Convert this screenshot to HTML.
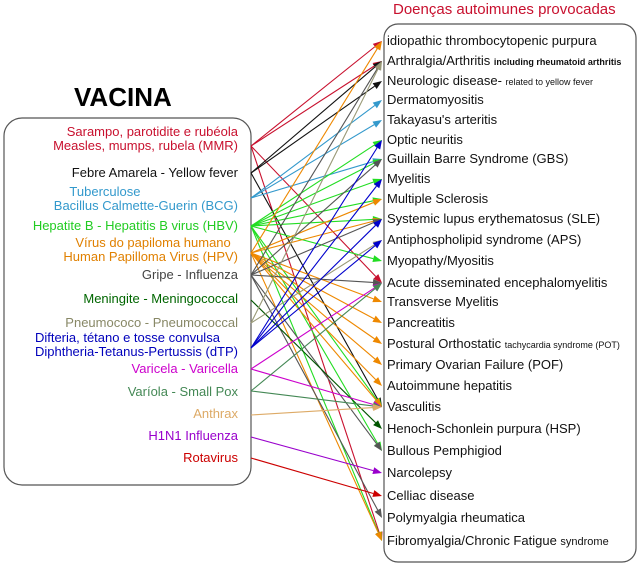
<!DOCTYPE html>
<html><head><meta charset="utf-8"><style>
body{margin:0;background:#fff;width:640px;height:566px;overflow:hidden;position:relative;font-family:"Liberation Sans",sans-serif}
.l{position:absolute;right:402px;text-align:right;white-space:nowrap;font-size:13px;line-height:14px}
.r{position:absolute;left:387px;white-space:nowrap;font-size:13px;color:#111;line-height:15px}
.s{font-size:9px;font-weight:bold}
.t{font-size:9px}
</style></head><body>
<svg width="640" height="566" style="position:absolute;left:0;top:0">
<rect x="4" y="118" width="247" height="367" rx="18" fill="none" stroke="#555" stroke-width="1.2"/>
<rect x="384" y="24" width="252" height="538" rx="14" fill="none" stroke="#555" stroke-width="1.2"/>
<g id="g" stroke-width="1.1" fill="none"></g>
</svg>
<div style="position:absolute;left:74px;top:82px;font-size:26px;font-weight:bold">VACINA</div>
<div style="position:absolute;left:393px;top:1px;font-size:15px;color:#c8102e">Doenças autoimunes provocadas</div>

<div class="l" style="top:125px;color:#c8102e">Sarampo, parotidite e rubéola<br>Measles, mumps, rubela (MMR)</div>
<div class="l" style="top:166px;color:#111">Febre Amarela - Yellow fever</div>
<div class="l" style="top:185px;color:#3399cc">Tuberculose&nbsp;&nbsp;&nbsp;&nbsp;&nbsp;&nbsp;&nbsp;&nbsp;&nbsp;&nbsp;&nbsp;&nbsp;&nbsp;&nbsp;&nbsp;&nbsp;&nbsp;&nbsp;&nbsp;&nbsp;&nbsp;&nbsp;&nbsp;&nbsp;&nbsp;&nbsp;&nbsp;<br>Bacillus Calmette-Guerin (BCG)</div>
<div class="l" style="top:219px;color:#22cc22">Hepatite B - Hepatitis B virus (HBV)</div>
<div class="l" style="top:236px;color:#e08000">Vírus do papiloma humano&nbsp;&nbsp;<br>Human Papilloma Virus (HPV)</div>
<div class="l" style="top:268px;color:#444">Gripe - Influenza</div>
<div class="l" style="top:292px;color:#006600">Meningite - Meningococcal</div>
<div class="l" style="top:316px;color:#888866">Pneumococo - Pneumococcal</div>
<div class="l" style="top:331px;color:#0000bb">Difteria, tétano e tosse convulsa&nbsp;&nbsp;&nbsp;&nbsp;&nbsp;<br>Diphtheria-Tetanus-Pertussis (dTP)</div>
<div class="l" style="top:362px;color:#cc00cc">Varicela - Varicella</div>
<div class="l" style="top:385px;color:#448855">Varíola - Small Pox</div>
<div class="l" style="top:407px;color:#ddaa66">Anthrax</div>
<div class="l" style="top:429px;color:#9900cc">H1N1 Influenza</div>
<div class="l" style="top:451px;color:#cc0000">Rotavirus</div>

<div id="R"></div>
<script>
var names=["idiopathic thrombocytopenic purpura","Arthralgia/Arthritis <span class=s>including rheumatoid arthritis</span>","Neurologic disease- <span class=t>related to yellow fever</span>","Dermatomyositis","Takayasu's arteritis","Optic neuritis","Guillain Barre Syndrome (GBS)","Myelitis","Multiple Sclerosis","Systemic lupus erythematosus (SLE)","Antiphospholipid syndrome (APS)","Myopathy/Myositis","Acute disseminated encephalomyelitis","Transverse Myelitis","Pancreatitis","Postural Orthostatic <span class=t>tachycardia syndrome (POT)</span>","Primary Ovarian Failure (POF)","Autoimmune hepatitis","Vasculitis","Henoch-Schonlein purpura (HSP)","Bullous Pemphigiod","Narcolepsy","Celliac disease","Polymyalgia rheumatica","Fibromyalgia/Chronic Fatigue <span style='font-size:11px'>syndrome</span>"];
var ry=[41,61,81,100,120,140,159,179,199,219,240,261,283,302,323,344,365,386,407,429,451,473,496,518,541];
var h="";for(var i=0;i<25;i++)h+='<div class="r" style="top:'+(ry[i]-8)+'px">'+names[i]+'</div>';
document.getElementById("R").innerHTML=h;
var src={mmr:[146,"#c8102e"],yf:[173,"#111"],bcg:[198,"#3399cc"],hbv:[226,"#22dd22"],hpv:[253,"#ee8800"],gr:[275,"#555"],men:[300,"#005500"],pn:[323,"#999977"],dtp:[348,"#0000cc"],var:[369,"#cc00cc"],vo:[391,"#448855"],an:[415,"#ddaa66"],h1:[437,"#9900cc"],ro:[458,"#cc0000"]};
var c={mmr:[0,1,12,24],yf:[1,2,18],bcg:[3,4,6],hbv:[5,7,8,9,11,18,20,24,6],hpv:[0,8,9,13,14,15,16,17,24,18],gr:[1,9,12,6,20,23],men:[19],pn:[1,10],dtp:[5,7,9,10],var:[12,18],vo:[12,18],an:[18],h1:[21],ro:[22]};
var s="";
for(var k in c){var y0=src[k][0],col=src[k][1];c[k].forEach(function(t){var x1=382,y1=ry[t],x0=251;var dx=x1-x0,dy=y1-y0,L=Math.sqrt(dx*dx+dy*dy),ux=dx/L,uy=dy/L;var bx=x1-ux*9,by=y1-uy*9;
s+='<line x1="'+x0+'" y1="'+y0+'" x2="'+bx+'" y2="'+by+'" stroke="'+col+'"/>';
s+='<polygon points="'+x1+','+y1+' '+(bx-uy*3.5)+','+(by+ux*3.5)+' '+(bx+uy*3.5)+','+(by-ux*3.5)+'" fill="'+col+'"/>';});}
document.getElementById("g").innerHTML=s;
</script>
</body></html>
